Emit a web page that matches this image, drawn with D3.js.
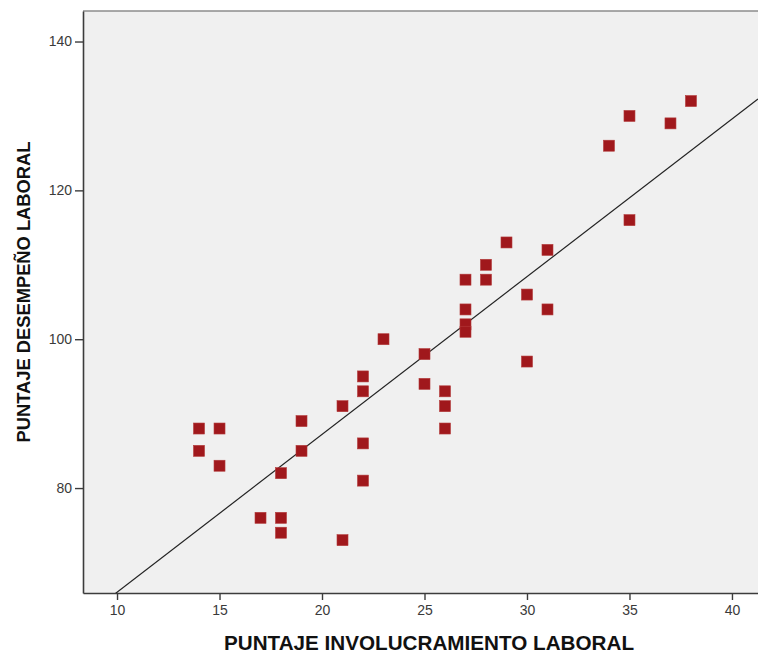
<html>
<head>
<meta charset="utf-8">
<title>Involucramiento vs Desempeño</title>
<style>
  body { margin: 0; background: #fff; }
  text { font-family: Arial, "Liberation Sans", sans-serif; }
</style>
<script src="https://d3js.org/d3.v7.min.js"></script>
</head>
<body>
<script>
// puntaje involucramiento laboral (x) y desempeño laboral (y)
var involucramiento = [14, 14, 15, 15, 17, 18, 18, 18, 19, 19, 21, 21, 22, 22, 22, 22, 23, 25, 25,
                       26, 26, 26, 27, 27, 27, 27, 28, 28, 29, 30, 30, 31, 31, 34, 35, 35, 37, 38];
var desempeno = [88, 85, 88, 83, 76, 82, 76, 74, 89, 85, 91, 73, 95, 93, 86, 81, 100, 98, 94,
                 93, 91, 88, 108, 104, 102, 101, 110, 108, 113, 106, 97, 112, 104, 126, 130, 116, 129, 132];
var xTicks = [10, 15, 20, 25, 30, 35, 40];
var yTicks = [80, 100, 120, 140];
// recta de ajuste (lineal)
var intercepto = 44.8, pendiente = 2.12;

var width = 758, height = 654;
var margin = {top: 11, right: 0, bottom: 61, left: 83};

var svg = d3.select("body").append("svg")
    .attr("width", width)
    .attr("height", height);

var x = d3.scaleLinear()
    .domain([8.34, 41.27])
    .range([margin.left, width - margin.right]);
var y = d3.scaleLinear()
    .domain([65.9, 144.1])
    .range([height - margin.bottom, margin.top]);

svg.append("defs").append("clipPath").attr("id", "clip")
  .append("rect")
    .attr("x", margin.left).attr("y", margin.top)
    .attr("width", width - margin.right - margin.left)
    .attr("height", height - margin.bottom - margin.top);

svg.append("rect")
    .attr("x", margin.left).attr("y", margin.top)
    .attr("width", width - margin.right - margin.left)
    .attr("height", height - margin.bottom - margin.top)
    .attr("fill", "#f0f0f0");

// borde superior
svg.append("line")
    .attr("x1", margin.left).attr("x2", width)
    .attr("y1", margin.top).attr("y2", margin.top)
    .attr("stroke", "#8c8c8c").attr("stroke-width", 1.5);

var xAxis = svg.append("g")
    .attr("transform", "translate(0," + (height - margin.bottom) + ")")
    .call(d3.axisBottom(x).tickValues(xTicks).tickSize(7).tickSizeOuter(0).tickPadding(5));
var yAxis = svg.append("g")
    .attr("transform", "translate(" + margin.left + ",0)")
    .call(d3.axisLeft(y).tickValues(yTicks).tickSize(8).tickSizeOuter(0).tickPadding(3));

[xAxis, yAxis].forEach(function(a) {
  a.select(".domain").attr("stroke", "#3c3c3c").attr("stroke-width", 1.6);
  a.selectAll(".tick line").attr("stroke", "#3c3c3c").attr("stroke-width", 1.4);
  a.selectAll(".tick text")
    .style("font-size", "14px")
    .style("font-family", "Arial, 'Liberation Sans', sans-serif")
    .attr("fill", "#3a3a3a");
});

var plot = svg.append("g").attr("clip-path", "url(#clip)");

var x0 = x.domain()[0], x1 = x.domain()[1];
plot.append("line")
    .attr("x1", x(x0)).attr("y1", y(intercepto + pendiente * x0))
    .attr("x2", x(x1)).attr("y2", y(intercepto + pendiente * x1))
    .attr("stroke", "#222").attr("stroke-width", 1.2);

var pts = involucramiento.map(function(d, i) { return {x: d, y: desempeno[i]}; });
var s = 11;
plot.selectAll("rect.pt")
    .data(pts)
    .enter().append("rect")
    .attr("class", "pt")
    .attr("x", d => x(d.x) - s / 2)
    .attr("y", d => y(d.y) - s / 2)
    .attr("width", s).attr("height", s)
    .attr("fill", "#a0181c")
    .attr("stroke", "#b33a3a").attr("stroke-width", 0.6);

svg.append("text")
    .attr("x", 429).attr("y", 650)
    .attr("text-anchor", "middle")
    .attr("textLength", 410).attr("lengthAdjust", "spacingAndGlyphs")
    .style("font-size", "20px").style("font-weight", "bold")
    .attr("fill", "#111")
    .text("PUNTAJE INVOLUCRAMIENTO LABORAL");

svg.append("text")
    .attr("transform", "translate(23,292) rotate(-90)")
    .attr("text-anchor", "middle")
    .attr("dy", "0.35em")
    .attr("textLength", 301).attr("lengthAdjust", "spacingAndGlyphs")
    .style("font-size", "19px").style("font-weight", "bold")
    .attr("fill", "#111")
    .text("PUNTAJE DESEMPEÑO LABORAL");
</script>
</body>
</html>
